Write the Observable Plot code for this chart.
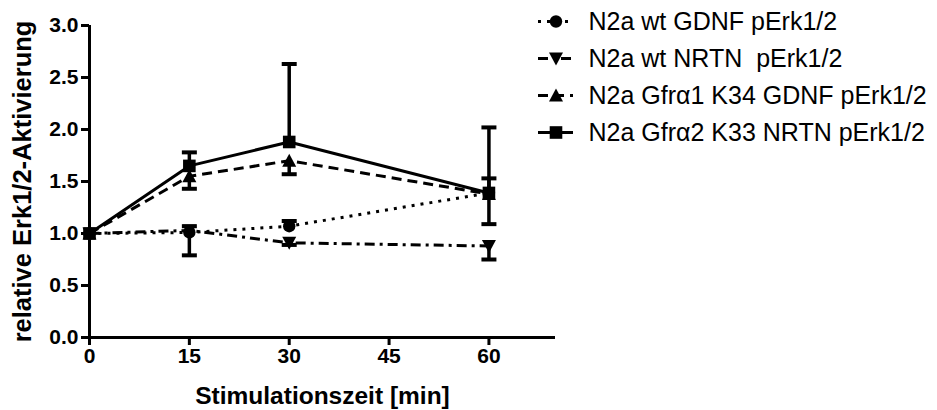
<!DOCTYPE html>
<html>
<head>
<meta charset="utf-8">
<script src="https://cdn.jsdelivr.net/npm/d3@7"></script>
<script src="https://cdn.jsdelivr.net/npm/@observablehq/plot@0.6"></script>
<style>
  html, body { margin: 0; padding: 0; background: #fff; }
  #wrap { position: relative; width: 937px; height: 410px; }
  #legend { position: absolute; left: 495px; top: 0; }
  text { white-space: pre; }
</style>
</head>
<body>
<div id="wrap"><div id="chart"></div><div id="legend"></div></div>
<script>
// ---- data ----
const times = [0, 15, 30, 60];
const seriesNames = [
  "N2a wt GDNF pErk1/2",
  "N2a wt NRTN  pErk1/2",
  "N2a Gfr\u03b11 K34 GDNF pErk1/2",
  "N2a Gfr\u03b12 K33 NRTN pErk1/2"
];
const wtGdnf = [1.00, 1.01, 1.07, 1.39];
const wtGdnfErr = [0, 0.06, 0.05, 0.14];     // drawn above
const wtNrtn = [1.00, 1.03, 0.91, 0.88];
const wtNrtnErr = [0, 0.24, 0.02, 0.13];     // drawn below
const gfra1Gdnf = [1.00, 1.55, 1.70, 1.38];
const gfra1GdnfErr = [0, 0.12, 0.13, 0.29];  // drawn below
const gfra2Nrtn = [1.00, 1.65, 1.88, 1.39];
const gfra2NrtnErr = [0, 0.13, 0.75, 0.63];  // drawn above
const errDirection = [1, -1, -1, 1];
const yTicks = [0, 0.5, 1.0, 1.5, 2.0, 2.5, 3.0];
const xTicks = [0, 15, 30, 45, 60];

const values = [wtGdnf, wtNrtn, gfra1Gdnf, gfra2Nrtn];
const errors = [wtGdnfErr, wtNrtnErr, gfra1GdnfErr, gfra2NrtnErr];

const rows = [];
seriesNames.forEach((s, i) => {
  times.forEach((t, j) => {
    rows.push({series: s, idx: i, x: t, y: values[i][j], err: errors[i][j],
               yEnd: values[i][j] + errDirection[i] * errors[i][j]});
  });
});
const errRows = rows.filter(d => d.err > 0);

// ---- symbols ----
function mk(fn) { return {draw(ctx, size) { fn(ctx, Math.sqrt(size / (Math.PI * 36))); }}; }
const symCircle = mk((c, k) => { const r = 6.2 * k; c.moveTo(r, 0); c.arc(0, 0, r, 0, 2 * Math.PI); });
const symTriDown = mk((c, k) => { c.moveTo(-7 * k, -6 * k); c.lineTo(7 * k, -6 * k); c.lineTo(0, 7 * k); c.closePath(); });
const symTriUp = mk((c, k) => { c.moveTo(-7 * k, 6 * k); c.lineTo(7 * k, 6 * k); c.lineTo(0, -7 * k); c.closePath(); });
const symSquare = mk((c, k) => { const h = 6.3 * k; c.rect(-h, -h, 2 * h, 2 * h); });
const symCap = mk((c, k) => { c.moveTo(-7.5 * k, 0); c.lineTo(7.5 * k, 0); });
const symbols = [symCircle, symTriDown, symTriUp, symSquare];
const dashes = ["3,6", "10,5,3,5", "10,6", null];

const font = "'Liberation Sans', Arial, Helvetica, sans-serif";
const fmtY = d3.format(".1f");

const marks = [];
seriesNames.forEach((s, i) => {
  marks.push(Plot.line(rows.filter(d => d.idx === i), {
    x: "x", y: "y", stroke: "black", strokeWidth: 3,
    strokeDasharray: dashes[i] || undefined, strokeLinecap: "butt"
  }));
});
marks.push(Plot.ruleX(errRows, {x: "x", y1: "y", y2: "yEnd", stroke: "black", strokeWidth: 3.5}));
marks.push(Plot.dot(errRows, {x: "x", y: "yEnd", symbol: () => symCap, r: 6, stroke: "black", strokeWidth: 4, fill: "none"}));
seriesNames.forEach((s, i) => {
  marks.push(Plot.dot(rows.filter(d => d.idx === i), {
    x: "x", y: "y", symbol: () => symbols[i], r: 6, fill: "black", stroke: "none"
  }));
});
marks.push(Plot.ruleY([0], {x1: 0, x2: 70, stroke: "black", strokeWidth: 3}));
marks.push(Plot.ruleX([0], {y1: 0, y2: 3, stroke: "black", strokeWidth: 3}));
// tick marks (labels drawn separately as text marks)
marks.push(Plot.axisY(yTicks, {tickFormat: () => "", tickSize: 8, strokeWidth: 3, label: null}));
marks.push(Plot.axisX(xTicks, {tickFormat: () => "", tickSize: 8, strokeWidth: 3, label: null}));
// tick labels
marks.push(Plot.text(yTicks, {y: d => d, text: d => fmtY(d), frameAnchor: "left", textAnchor: "end",
  dx: -11, fontSize: 21, fontWeight: "bold", fill: "black"}));
marks.push(Plot.text(xTicks, {x: d => d, text: d => String(d), frameAnchor: "bottom",
  dy: 25, fontSize: 21, fontWeight: "bold", fill: "black"}));
// axis titles
marks.push(Plot.axisY({ticks: [], tickSize: 0, label: "relative Erk1/2-Aktivierung", labelAnchor: "center",
  labelArrow: "none", labelOffset: 77, fontSize: 25.5, fontWeight: "bold"}));
marks.push(Plot.axisX({ticks: [], tickSize: 0, label: "Stimulationszeit [min]", labelAnchor: "center",
  labelArrow: "none", labelOffset: 66, fontSize: 24.5, fontWeight: "bold"}));

const chart = Plot.plot({
  width: 937, height: 410,
  marginLeft: 89, marginRight: 382, marginTop: 25, marginBottom: 73,
  style: {fontFamily: font, color: "black", background: "white", overflow: "visible"},
  x: {domain: [0, 70]},
  y: {domain: [0, 3]},
  marks
});
document.getElementById("chart").append(chart);

// ---- legend ----
const legRows = seriesNames.map((s, i) => ({name: s, idx: i}));
const legMarks = [];
legRows.forEach((d, i) => {
  legMarks.push(Plot.ruleY([d], {y: "name", x1: 0, x2: 1, stroke: "black", strokeWidth: 3,
    strokeDasharray: dashes[i] || undefined}));
  legMarks.push(Plot.dot([d], {x: 0.5, y: "name", symbol: () => symbols[i], r: 6, fill: "black"}));
});
legMarks.push(Plot.text(legRows, {x: 1, y: "name", text: "name", textAnchor: "start", dx: 15,
  fontSize: 25, fill: "black"}));
const legend = Plot.plot({
  width: 442, height: 160,
  marginLeft: 43, marginRight: 364, marginTop: 21, marginBottom: 28,
  style: {fontFamily: font, color: "black", background: "transparent", overflow: "visible"},
  x: {domain: [0, 1], axis: null},
  y: {type: "point", domain: seriesNames, axis: null, padding: 0},
  marks: legMarks
});
document.getElementById("legend").append(legend);
</script>
</body>
</html>
